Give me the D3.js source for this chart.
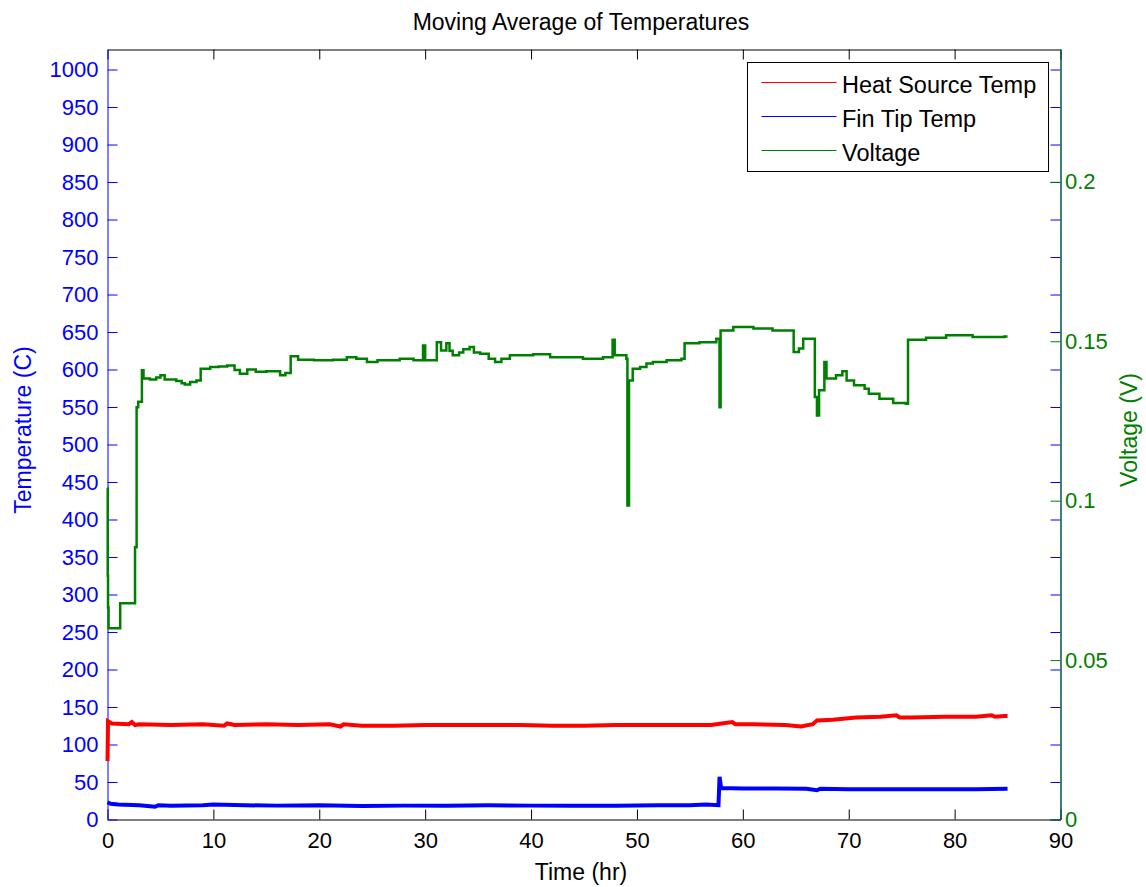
<!DOCTYPE html>
<html>
<head>
<meta charset="utf-8">
<script src="https://cdn.jsdelivr.net/npm/d3@7"></script>
<style>
  body { margin: 0; background: #fff; }
  svg { font-family: "Liberation Sans", Arial, sans-serif; }
</style>
</head>
<body>
<svg id="chart" width="1146" height="887"></svg>
<script>
// [time (hr), temperature (C)]
const heatSource = [
  [0, 78], [0.05, 131], [0.4, 128], [2, 127], [2.3, 130], [2.6, 126], [3, 127],
  [6, 126], [9, 127], [11, 125], [11.3, 128], [12, 126], [15, 127], [18, 126],
  [21, 127], [22, 124], [22.3, 127], [24, 125], [27, 125], [30, 126], [33, 126],
  [36, 126], [39, 126], [42, 125], [45, 125], [48, 126], [51, 126], [54, 126],
  [57, 126], [58, 128], [59, 130], [59.3, 127], [61, 127], [64, 126], [65.5, 124],
  [66.6, 127], [67, 132], [68.5, 133], [70.7, 136], [73, 137], [74.5, 139], [74.8, 136],
  [76, 136], [79, 137], [82, 137], [83.5, 139], [83.8, 137], [84.7, 138], [85, 138]
];

const finTip = [
  [0, 23], [0.3, 21], [1, 20], [3, 19], [4.5, 17], [4.8, 19], [6, 18.5], [9, 19],
  [10, 20], [13, 19], [16, 18.5], [20, 19], [24, 18], [28, 18.5], [32, 18.5],
  [36, 19], [40, 18.5], [44, 18.5], [48, 18.5], [52, 19], [55, 19], [56.5, 20],
  [57.7, 19], [57.8, 57], [57.95, 42], [60, 41.5], [63, 41.5], [66, 41], [67, 39],
  [67.3, 41], [70, 40.5], [74, 40.5], [78, 40.5], [82, 40.5], [85, 41]
];

// [time (hr), voltage (V)]
const voltage = [
  [0, 0.1040], [0.02, 0.0765], [0.05, 0.0665], [0.1, 0.0600], [1.2, 0.0678],
  [2.6, 0.0854], [2.75, 0.1293], [2.9, 0.1310], [3.25, 0.1409], [3.4, 0.1383],
  [4.0, 0.1380], [4.6, 0.1386], [5.0, 0.1393], [5.4, 0.1380], [6.5, 0.1375],
  [7.0, 0.1368], [7.3, 0.1364], [7.8, 0.1372], [8.4, 0.1377], [8.8, 0.1414],
  [9.7, 0.1419], [10.5, 0.1421], [11.3, 0.1424], [12.0, 0.1410], [12.5, 0.1398],
  [13.2, 0.1411], [14.0, 0.1404], [15.0, 0.1406], [16.3, 0.1393], [16.8, 0.1400],
  [17.3, 0.1453], [18.0, 0.1442], [19.5, 0.1440], [21.3, 0.1442], [22.6, 0.1450],
  [23.5, 0.1445], [24.5, 0.1435], [25.5, 0.1440], [27.6, 0.1445], [28.9, 0.1440],
  [29.8, 0.1487], [30.0, 0.1440], [31.1, 0.1497], [31.5, 0.1471], [32.0, 0.1494],
  [32.3, 0.1470], [32.6, 0.1456], [33.2, 0.1465], [33.6, 0.1475], [34.2, 0.1482],
  [34.6, 0.1465], [35.2, 0.1461], [36.0, 0.1445], [36.6, 0.1435], [37.2, 0.1445],
  [38.0, 0.1456], [40.2, 0.1459], [41.8, 0.1450], [44.9, 0.1445], [46.8, 0.1450],
  [47.7, 0.1505], [47.9, 0.1456], [48.4, 0.1456], [49.0, 0.1445], [49.1, 0.0985],
  [49.25, 0.1377], [49.6, 0.1414], [50.3, 0.1419], [50.9, 0.1430], [51.5, 0.1435],
  [52.8, 0.1440], [54.2, 0.1445], [54.5, 0.1494], [55.9, 0.1497], [57.5, 0.1508],
  [57.8, 0.1293], [57.9, 0.1534], [59.1, 0.1545], [61.0, 0.1540], [62.8, 0.1534],
  [64.8, 0.1466], [65.3, 0.1477], [65.7, 0.1508], [66.8, 0.1325], [67.0, 0.1267],
  [67.2, 0.1346], [67.7, 0.1435], [67.9, 0.1383], [68.8, 0.1393], [69.4, 0.1406],
  [69.8, 0.1377], [70.5, 0.1362], [71.5, 0.1351], [71.9, 0.1335], [72.9, 0.1320],
  [74.2, 0.1306], [75.4, 0.1304], [75.6, 0.1505], [77.3, 0.1511], [79.2, 0.1519],
  [81.7, 0.1513], [84.7, 0.1515], [85.0, 0.1515]
];

const timeTicks = d3.range(0, 91, 10);
const tempTicks = d3.range(0, 1001, 50);
const voltTicks = [0, 0.05, 0.1, 0.15, 0.2];
const seriesNames = ["Heat Source Temp", "Fin Tip Temp", "Voltage"];
const seriesColors = ["#ff0000", "#0000ff", "#008000"];

const svg = d3.select("#chart"),
  margin = { top: 49.5, left: 107.5 },
  width = 953,
  height = 770,
  g = svg
    .append("g")
    .attr("transform", "translate(" + margin.left + "," + margin.top + ")");

const x = d3.scaleLinear().domain([0, 90]).range([0, width]),
  yT = d3.scaleLinear().domain([0, 1026.7]).range([height, 0]),
  yV = d3.scaleLinear().domain([0, 0.2415]).range([height, 0]);

function styleAxis(sel, color) {
  sel.attr("font-size", 22).attr("font-family", null).attr("color", color);
  sel.selectAll("text").attr("fill", color);
}

// top border with ticks
g.append("g")
  .call(d3.axisTop(x).tickValues(timeTicks).tickSize(-10).tickSizeOuter(0).tickFormat(""))
  .call(styleAxis, "#000");

g.append("g")
  .attr("transform", `translate(0,${height})`)
  .call(d3.axisBottom(x).tickValues(timeTicks).tickSize(-10).tickSizeOuter(0).tickPadding(13))
  .call(styleAxis, "#000");

g.append("g")
  .call(d3.axisLeft(yT).tickValues(tempTicks).tickSize(-10).tickSizeOuter(0).tickPadding(9)
    .tickFormat(d3.format("d")))
  .call(styleAxis, "#0000ff");

// left axis ticks mirrored on the right side
g.append("g")
  .attr("transform", `translate(${width},0)`)
  .call(d3.axisRight(yT).tickValues(tempTicks).tickSize(-10).tickSizeOuter(0).tickFormat(""))
  .call(styleAxis, "#0000ff");

const line = (yScale) =>
  d3.line().x((d) => x(d[0])).y((d) => yScale(d[1]));

g.append("path")
  .datum(heatSource)
  .style("fill", "none")
  .style("stroke", seriesColors[0])
  .style("stroke-width", 4)
  .attr("d", line(yT));

g.append("path")
  .datum(finTip)
  .style("fill", "none")
  .style("stroke", seriesColors[1])
  .style("stroke-width", 4)
  .attr("d", line(yT));

g.append("path")
  .datum(voltage)
  .style("fill", "none")
  .style("stroke", seriesColors[2])
  .style("stroke-width", 2.5)
  .attr("d", line(yV).curve(d3.curveStepAfter));

g.append("g")
  .attr("transform", `translate(${width},0)`)
  .call(d3.axisRight(yV).tickValues(voltTicks).tickSize(-10).tickSizeOuter(0).tickPadding(4.5)
    .tickFormat((d) => String(d)))
  .call(styleAxis, "#008000");

// titles
svg.append("text")
  .attr("x", 581).attr("y", 30)
  .attr("text-anchor", "middle").attr("font-size", 23).attr("fill", "#000")
  .text("Moving Average of Temperatures");

svg.append("text")
  .attr("x", 581).attr("y", 880)
  .attr("text-anchor", "middle").attr("font-size", 23).attr("fill", "#000")
  .text("Time (hr)");

svg.append("text")
  .attr("transform", "translate(31,430) rotate(-90)")
  .attr("text-anchor", "middle").attr("font-size", 23).attr("fill", "#0000ff")
  .text("Temperature (C)");

svg.append("text")
  .attr("transform", "translate(1137,430) rotate(-90)")
  .attr("text-anchor", "middle").attr("font-size", 23).attr("fill", "#008000")
  .text("Voltage (V)");

// legend
const legend = svg.append("g").attr("transform", "translate(747.5,62.5)");
legend.append("rect")
  .attr("width", 301).attr("height", 109)
  .style("fill", "#fff").style("stroke", "#000");

const item = legend.selectAll(".item")
  .data(seriesNames)
  .enter()
  .append("g")
  .attr("class", "item")
  .attr("transform", (d, i) => `translate(0,${20 + i * 34})`);

item.append("line")
  .attr("x1", 14).attr("x2", 89)
  .style("stroke", (d, i) => seriesColors[i]).style("stroke-width", 1.2);

item.append("text")
  .attr("x", 94.5).attr("y", 10.5)
  .attr("font-size", 23.5).attr("fill", "#000")
  .text((d) => d);
</script>
</body>
</html>
